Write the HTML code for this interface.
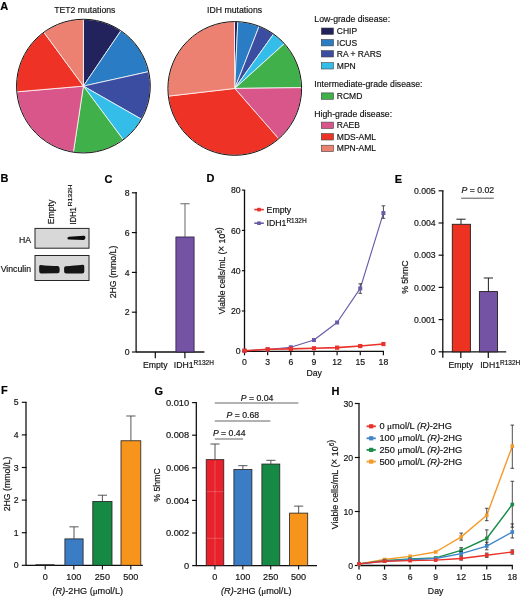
<!DOCTYPE html><html><head><meta charset="utf-8"><style>html,body{margin:0;padding:0;background:#fff;overflow:hidden}svg{display:block}</style></head><body>
<svg width="520" height="597" viewBox="0 0 520 597" font-family="'Liberation Sans', sans-serif">
<style>text{stroke:#141414;stroke-width:0.22px;stroke-opacity:0.8}</style>
<defs><filter id="gblur" x="0" y="0" width="520" height="597" filterUnits="userSpaceOnUse"><feGaussianBlur stdDeviation="0.3"/></filter></defs>
<rect width="520" height="597" fill="#fff"/>
<g filter="url(#gblur)">
<text x="0.30" y="9.80" font-size="11" text-anchor="start" font-weight="bold" fill="#000" >A</text>
<text x="84.80" y="12.70" font-size="8.7" text-anchor="middle" fill="#141414" >TET2 mutations</text>
<text x="234.60" y="12.70" font-size="8.7" text-anchor="middle" fill="#141414" >IDH mutations</text>
<path d="M83.40,86.10 L83.40,19.25 A66.85,66.85 0 0 1 120.88,30.74 Z" fill="#22215c" stroke="#fff" stroke-width="0.75" stroke-linejoin="round"/>
<path d="M83.40,86.10 L120.88,30.74 A66.85,66.85 0 0 1 148.67,71.63 Z" fill="#2a7dc4" stroke="#fff" stroke-width="0.75" stroke-linejoin="round"/>
<path d="M83.40,86.10 L148.67,71.63 A66.85,66.85 0 0 1 141.47,119.22 Z" fill="#3b4ea1" stroke="#fff" stroke-width="0.75" stroke-linejoin="round"/>
<path d="M83.40,86.10 L141.47,119.22 A66.85,66.85 0 0 1 123.26,139.77 Z" fill="#35bdea" stroke="#fff" stroke-width="0.75" stroke-linejoin="round"/>
<path d="M83.40,86.10 L123.26,139.77 A66.85,66.85 0 0 1 73.40,152.20 Z" fill="#3fb04c" stroke="#fff" stroke-width="0.75" stroke-linejoin="round"/>
<path d="M83.40,86.10 L73.40,152.20 A66.85,66.85 0 0 1 16.79,91.81 Z" fill="#d9568b" stroke="#fff" stroke-width="0.75" stroke-linejoin="round"/>
<path d="M83.40,86.10 L16.79,91.81 A66.85,66.85 0 0 1 43.82,32.22 Z" fill="#ee3226" stroke="#fff" stroke-width="0.75" stroke-linejoin="round"/>
<path d="M83.40,86.10 L43.82,32.22 A66.85,66.85 0 0 1 83.40,19.25 Z" fill="#ec8071" stroke="#fff" stroke-width="0.75" stroke-linejoin="round"/>
<circle cx="83.4" cy="86.1" r="66.85" fill="none" stroke="#141414" stroke-width="1.0"/>
<path d="M234.75,88.45 L234.40,21.60 A66.85,66.85 0 0 1 237.78,21.67 Z" fill="#22215c" stroke="#fff" stroke-width="0.75" stroke-linejoin="round"/>
<path d="M234.75,88.45 L237.78,21.67 A66.85,66.85 0 0 1 259.14,26.21 Z" fill="#2a7dc4" stroke="#fff" stroke-width="0.75" stroke-linejoin="round"/>
<path d="M234.75,88.45 L259.14,26.21 A66.85,66.85 0 0 1 273.57,34.03 Z" fill="#3b4ea1" stroke="#fff" stroke-width="0.75" stroke-linejoin="round"/>
<path d="M234.75,88.45 L273.57,34.03 A66.85,66.85 0 0 1 284.35,43.63 Z" fill="#35bdea" stroke="#fff" stroke-width="0.75" stroke-linejoin="round"/>
<path d="M234.75,88.45 L284.35,43.63 A66.85,66.85 0 0 1 301.60,87.63 Z" fill="#3fb04c" stroke="#fff" stroke-width="0.75" stroke-linejoin="round"/>
<path d="M234.75,88.45 L301.60,87.63 A66.85,66.85 0 0 1 278.70,138.83 Z" fill="#d9568b" stroke="#fff" stroke-width="0.75" stroke-linejoin="round"/>
<path d="M234.75,88.45 L278.70,138.83 A66.85,66.85 0 0 1 168.34,96.13 Z" fill="#ee3226" stroke="#fff" stroke-width="0.75" stroke-linejoin="round"/>
<path d="M234.75,88.45 L168.34,96.13 A66.85,66.85 0 0 1 234.40,21.60 Z" fill="#ec8071" stroke="#fff" stroke-width="0.75" stroke-linejoin="round"/>
<circle cx="234.75" cy="88.45" r="66.85" fill="none" stroke="#141414" stroke-width="1.0"/>
<text x="314.30" y="22.00" font-size="8.7" text-anchor="start" fill="#141414" >Low-grade disease:</text>
<rect x="321.30" y="28.00" width="12.20" height="6.40" fill="#22215c" stroke="#444" stroke-width="0.6"/>
<text x="336.80" y="34.20" font-size="8.5" text-anchor="start" fill="#141414" >CHIP</text>
<rect x="321.30" y="39.50" width="12.20" height="6.40" fill="#2a7dc4" stroke="#444" stroke-width="0.6"/>
<text x="336.80" y="45.70" font-size="8.5" text-anchor="start" fill="#141414" >ICUS</text>
<rect x="321.30" y="50.60" width="12.20" height="6.40" fill="#3b4ea1" stroke="#444" stroke-width="0.6"/>
<text x="336.80" y="56.80" font-size="8.5" text-anchor="start" fill="#141414" >RA + RARS</text>
<rect x="321.30" y="62.60" width="12.20" height="6.40" fill="#35bdea" stroke="#444" stroke-width="0.6"/>
<text x="336.80" y="68.80" font-size="8.5" text-anchor="start" fill="#141414" >MPN</text>
<text x="314.30" y="87.00" font-size="8.7" text-anchor="start" fill="#141414" >Intermediate-grade disease:</text>
<rect x="321.30" y="92.90" width="12.20" height="6.40" fill="#3fb04c" stroke="#444" stroke-width="0.6"/>
<text x="336.80" y="99.10" font-size="8.5" text-anchor="start" fill="#141414" >RCMD</text>
<text x="314.30" y="117.10" font-size="8.7" text-anchor="start" fill="#141414" >High-grade disease:</text>
<rect x="321.30" y="122.10" width="12.20" height="6.40" fill="#d9568b" stroke="#444" stroke-width="0.6"/>
<text x="336.80" y="128.30" font-size="8.5" text-anchor="start" fill="#141414" >RAEB</text>
<rect x="321.30" y="133.60" width="12.20" height="6.40" fill="#ee3226" stroke="#444" stroke-width="0.6"/>
<text x="336.80" y="139.80" font-size="8.5" text-anchor="start" fill="#141414" >MDS-AML</text>
<rect x="321.30" y="145.20" width="12.20" height="6.40" fill="#ec8071" stroke="#444" stroke-width="0.6"/>
<text x="336.80" y="151.40" font-size="8.5" text-anchor="start" fill="#141414" >MPN-AML</text>
<text x="0.60" y="182.40" font-size="11" text-anchor="start" font-weight="bold" fill="#000" >B</text>
<text x="104.60" y="182.60" font-size="11" text-anchor="start" font-weight="bold" fill="#000" >C</text>
<text x="206.60" y="182.40" font-size="11" text-anchor="start" font-weight="bold" fill="#000" >D</text>
<text x="394.80" y="182.50" font-size="11" text-anchor="start" font-weight="bold" fill="#000" >E</text>
<text x="1.00" y="393.80" font-size="11" text-anchor="start" font-weight="bold" fill="#000" >F</text>
<text x="154.60" y="395.00" font-size="11" text-anchor="start" font-weight="bold" fill="#000" >G</text>
<text x="331.60" y="394.80" font-size="11" text-anchor="start" font-weight="bold" fill="#000" >H</text>
<defs><filter id="blur1" x="-20%" y="-50%" width="140%" height="200%"><feGaussianBlur stdDeviation="0.55"/></filter></defs>
<rect x="35.00" y="228.40" width="54.00" height="19.80" fill="#d8d8d8" stroke="#262626" stroke-width="1.0"/>
<rect x="35.00" y="255.50" width="54.00" height="25.00" fill="#d8d8d8" stroke="#262626" stroke-width="1.0"/>
<path d="M67.4,238.3 Q67.4,236.9 69,236.8 L83.6,235.7 Q85.5,235.3 85.4,237.6 L85.2,238.6 Q85,240.1 83.2,240.0 L69,239.6 Q67.4,239.6 67.4,238.3 Z" fill="#111" filter="url(#blur1)"/>
<path d="M40.4,264.9 C46,265.4 52,266.0 57.8,266.1 Q59.6,266.2 59.6,268.5 L59.6,271.3 Q59.6,273.3 57.6,273.3 L41.2,273.4 Q39.2,273.4 39.2,271.2 L39.2,266.6 Q39.2,264.8 40.4,264.9 Z" fill="#141414" filter="url(#blur1)"/>
<path d="M65.9,266.2 C71,266.0 77,265.4 82.8,264.8 Q84.3,264.7 84.3,266.8 L84.3,271.5 Q84.3,273.4 82.3,273.4 L66.1,273.5 Q64.1,273.5 64.1,271.5 L64.1,268.2 Q64.1,266.3 65.9,266.2 Z" fill="#141414" filter="url(#blur1)"/>
<text x="31.00" y="242.80" font-size="8.7" text-anchor="end" fill="#141414" >HA</text>
<text x="31.00" y="271.80" font-size="8.7" text-anchor="end" fill="#141414" >Vinculin</text>
<text transform="translate(54.0,224.3) rotate(-90)" font-size="8.7" fill="#141414">Empty</text>
<text transform="translate(75.7,224.4) rotate(-90)" font-size="8.7" fill="#141414" textLength="17.2" lengthAdjust="spacingAndGlyphs">IDH1</text>
<text transform="translate(72.4,206.6) rotate(-90)" font-size="5.8" fill="#141414" textLength="21.8" lengthAdjust="spacingAndGlyphs">R132H</text>
<line x1="136.10" y1="192.00" x2="136.10" y2="352.00" stroke="#111" stroke-width="1.3" />
<line x1="131.90" y1="352.00" x2="136.75" y2="352.00" stroke="#111" stroke-width="1.1700000000000002" />
<text x="129.70" y="355.10" font-size="8.7" text-anchor="end" fill="#141414" >0</text>
<line x1="131.90" y1="312.20" x2="136.75" y2="312.20" stroke="#111" stroke-width="1.1700000000000002" />
<text x="129.70" y="315.30" font-size="8.7" text-anchor="end" fill="#141414" >2</text>
<line x1="131.90" y1="272.40" x2="136.75" y2="272.40" stroke="#111" stroke-width="1.1700000000000002" />
<text x="129.70" y="275.50" font-size="8.7" text-anchor="end" fill="#141414" >4</text>
<line x1="131.90" y1="232.60" x2="136.75" y2="232.60" stroke="#111" stroke-width="1.1700000000000002" />
<text x="129.70" y="235.70" font-size="8.7" text-anchor="end" fill="#141414" >6</text>
<line x1="131.90" y1="192.80" x2="136.75" y2="192.80" stroke="#111" stroke-width="1.1700000000000002" />
<text x="129.70" y="195.90" font-size="8.7" text-anchor="end" fill="#141414" >8</text>
<line x1="136.10" y1="352.00" x2="204.40" y2="352.00" stroke="#111" stroke-width="1.3" />
<line x1="155.30" y1="352.00" x2="155.30" y2="358.30" stroke="#111" stroke-width="1.2" />
<line x1="184.90" y1="352.00" x2="184.90" y2="358.30" stroke="#111" stroke-width="1.2" />
<rect x="175.90" y="236.98" width="18.20" height="115.02" fill="#7452a4" stroke="#2a2040" stroke-width="0.8"/>
<line x1="185.00" y1="203.75" x2="185.00" y2="236.98" stroke="#555" stroke-width="0.9" />
<line x1="180.40" y1="203.75" x2="189.60" y2="203.75" stroke="#555" stroke-width="0.9" />
<text transform="translate(116.20,272.00) rotate(-90)" font-size="8.7" text-anchor="middle" fill="#141414">2HG (mmo/L)</text>
<text x="155.30" y="367.80" font-size="8.7" text-anchor="middle" fill="#141414" >Empty</text>
<text x="173.80" y="367.80" font-size="8.7" text-anchor="start" fill="#141414" >IDH1<tspan font-size="6.5" dy="-3.3">R132H</tspan></text>
<line x1="244.50" y1="190.10" x2="244.50" y2="351.30" stroke="#111" stroke-width="1.3" />
<line x1="241.90" y1="351.30" x2="245.15" y2="351.30" stroke="#111" stroke-width="1.1700000000000002" />
<text x="240.70" y="354.40" font-size="8.7" text-anchor="end" fill="#141414" >0</text>
<line x1="241.90" y1="311.00" x2="245.15" y2="311.00" stroke="#111" stroke-width="1.1700000000000002" />
<text x="240.70" y="314.10" font-size="8.7" text-anchor="end" fill="#141414" >20</text>
<line x1="241.90" y1="270.70" x2="245.15" y2="270.70" stroke="#111" stroke-width="1.1700000000000002" />
<text x="240.70" y="273.80" font-size="8.7" text-anchor="end" fill="#141414" >40</text>
<line x1="241.90" y1="230.40" x2="245.15" y2="230.40" stroke="#111" stroke-width="1.1700000000000002" />
<text x="240.70" y="233.50" font-size="8.7" text-anchor="end" fill="#141414" >60</text>
<line x1="241.90" y1="190.10" x2="245.15" y2="190.10" stroke="#111" stroke-width="1.1700000000000002" />
<text x="240.70" y="193.20" font-size="8.7" text-anchor="end" fill="#141414" >80</text>
<line x1="244.50" y1="351.30" x2="384.00" y2="351.30" stroke="#111" stroke-width="1.3" />
<line x1="244.50" y1="351.30" x2="244.50" y2="355.30" stroke="#111" stroke-width="1.2" />
<text x="244.50" y="365.20" font-size="8.7" text-anchor="middle" fill="#141414" >0</text>
<line x1="267.65" y1="351.30" x2="267.65" y2="355.30" stroke="#111" stroke-width="1.2" />
<text x="267.65" y="365.20" font-size="8.7" text-anchor="middle" fill="#141414" >3</text>
<line x1="290.80" y1="351.30" x2="290.80" y2="355.30" stroke="#111" stroke-width="1.2" />
<text x="290.80" y="365.20" font-size="8.7" text-anchor="middle" fill="#141414" >6</text>
<line x1="313.95" y1="351.30" x2="313.95" y2="355.30" stroke="#111" stroke-width="1.2" />
<text x="313.95" y="365.20" font-size="8.7" text-anchor="middle" fill="#141414" >9</text>
<line x1="337.10" y1="351.30" x2="337.10" y2="355.30" stroke="#111" stroke-width="1.2" />
<text x="337.10" y="365.20" font-size="8.7" text-anchor="middle" fill="#141414" >12</text>
<line x1="360.25" y1="351.30" x2="360.25" y2="355.30" stroke="#111" stroke-width="1.2" />
<text x="360.25" y="365.20" font-size="8.7" text-anchor="middle" fill="#141414" >15</text>
<line x1="383.40" y1="351.30" x2="383.40" y2="355.30" stroke="#111" stroke-width="1.2" />
<text x="383.40" y="365.20" font-size="8.7" text-anchor="middle" fill="#141414" >18</text>
<text x="314.20" y="375.60" font-size="8.7" text-anchor="middle" fill="#141414" >Day</text>
<text transform="translate(224.90,270.80) rotate(-90)" font-size="8.6" text-anchor="middle" fill="#141414">Viable cells/mL (<tspan font-size="10.2">×</tspan> 10<tspan font-size="6.5" dy="-3.3">6</tspan>)</text>
<polyline points="244.50,350.70 267.65,349.49 290.80,347.27 313.95,340.02 337.10,322.49 360.25,288.43 383.40,213.07" fill="none" stroke="#6a5aa8" stroke-width="1.15" stroke-linejoin="round"/>
<line x1="360.25" y1="283.80" x2="360.25" y2="293.27" stroke="#231f20" stroke-width="0.8" />
<line x1="358.45" y1="283.80" x2="362.05" y2="283.80" stroke="#231f20" stroke-width="0.8" />
<line x1="358.45" y1="293.27" x2="362.05" y2="293.27" stroke="#231f20" stroke-width="0.8" />
<line x1="383.40" y1="205.82" x2="383.40" y2="218.31" stroke="#231f20" stroke-width="0.8" />
<line x1="381.60" y1="205.82" x2="385.20" y2="205.82" stroke="#231f20" stroke-width="0.8" />
<line x1="381.60" y1="218.31" x2="385.20" y2="218.31" stroke="#231f20" stroke-width="0.8" />
<rect x="242.50" y="348.70" width="4.00" height="4.00" fill="#6a5aa8"/>
<rect x="265.65" y="347.49" width="4.00" height="4.00" fill="#6a5aa8"/>
<rect x="288.80" y="345.27" width="4.00" height="4.00" fill="#6a5aa8"/>
<rect x="311.95" y="338.02" width="4.00" height="4.00" fill="#6a5aa8"/>
<rect x="335.10" y="320.49" width="4.00" height="4.00" fill="#6a5aa8"/>
<rect x="358.25" y="286.43" width="4.00" height="4.00" fill="#6a5aa8"/>
<rect x="381.40" y="211.07" width="4.00" height="4.00" fill="#6a5aa8"/>
<polyline points="244.50,350.70 267.65,349.29 290.80,348.88 313.95,348.28 337.10,347.67 360.25,346.06 383.40,344.05" fill="none" stroke="#e8312a" stroke-width="1.6" stroke-linejoin="round"/>
<rect x="242.40" y="348.60" width="4.20" height="4.20" fill="#e8312a"/>
<rect x="265.55" y="347.19" width="4.20" height="4.20" fill="#e8312a"/>
<rect x="288.70" y="346.78" width="4.20" height="4.20" fill="#e8312a"/>
<rect x="311.85" y="346.18" width="4.20" height="4.20" fill="#e8312a"/>
<rect x="335.00" y="345.57" width="4.20" height="4.20" fill="#e8312a"/>
<rect x="358.15" y="343.96" width="4.20" height="4.20" fill="#e8312a"/>
<rect x="381.30" y="341.95" width="4.20" height="4.20" fill="#e8312a"/>
<line x1="254.30" y1="209.60" x2="263.80" y2="209.60" stroke="#e8312a" stroke-width="1.6" />
<rect x="257.20" y="207.80" width="3.60" height="3.60" fill="#e8312a"/>
<line x1="254.30" y1="223.20" x2="263.80" y2="223.20" stroke="#6a5aa8" stroke-width="1.6" />
<rect x="257.20" y="221.40" width="3.60" height="3.60" fill="#6a5aa8"/>
<text x="266.60" y="212.60" font-size="8.7" text-anchor="start" fill="#141414" >Empty</text>
<text x="266.60" y="226.20" font-size="8.7" text-anchor="start" fill="#141414" >IDH1<tspan font-size="6.5" dy="-3.3">R132H</tspan></text>
<line x1="442.80" y1="190.80" x2="442.80" y2="357.80" stroke="#111" stroke-width="1.3" />
<line x1="438.60" y1="351.80" x2="443.45" y2="351.80" stroke="#111" stroke-width="1.1700000000000002" />
<text x="435.70" y="354.90" font-size="8.7" text-anchor="end" fill="#141414" >0</text>
<line x1="438.60" y1="319.60" x2="443.45" y2="319.60" stroke="#111" stroke-width="1.1700000000000002" />
<text x="435.70" y="322.70" font-size="8.7" text-anchor="end" fill="#141414" >0.001</text>
<line x1="438.60" y1="287.40" x2="443.45" y2="287.40" stroke="#111" stroke-width="1.1700000000000002" />
<text x="435.70" y="290.50" font-size="8.7" text-anchor="end" fill="#141414" >0.002</text>
<line x1="438.60" y1="255.20" x2="443.45" y2="255.20" stroke="#111" stroke-width="1.1700000000000002" />
<text x="435.70" y="258.30" font-size="8.7" text-anchor="end" fill="#141414" >0.003</text>
<line x1="438.60" y1="223.00" x2="443.45" y2="223.00" stroke="#111" stroke-width="1.1700000000000002" />
<text x="435.70" y="226.10" font-size="8.7" text-anchor="end" fill="#141414" >0.004</text>
<line x1="438.60" y1="190.80" x2="443.45" y2="190.80" stroke="#111" stroke-width="1.1700000000000002" />
<text x="435.70" y="193.90" font-size="8.7" text-anchor="end" fill="#141414" >0.005</text>
<line x1="442.80" y1="351.80" x2="506.20" y2="351.80" stroke="#111" stroke-width="1.3" />
<line x1="460.80" y1="351.80" x2="460.80" y2="358.00" stroke="#111" stroke-width="1.2" />
<line x1="488.30" y1="351.80" x2="488.30" y2="358.00" stroke="#111" stroke-width="1.2" />
<rect x="452.30" y="224.29" width="18.10" height="127.51" fill="#ee3124" stroke="#231f20" stroke-width="0.9"/>
<line x1="461.00" y1="219.20" x2="461.00" y2="224.29" stroke="#231f20" stroke-width="1.0" />
<line x1="456.40" y1="219.20" x2="465.60" y2="219.20" stroke="#231f20" stroke-width="1.0" />
<rect x="479.40" y="291.59" width="18.10" height="60.21" fill="#7452a4" stroke="#231f20" stroke-width="0.9"/>
<line x1="488.40" y1="278.00" x2="488.40" y2="291.59" stroke="#231f20" stroke-width="1.0" />
<line x1="483.80" y1="278.00" x2="493.00" y2="278.00" stroke="#231f20" stroke-width="1.0" />
<text x="477.80" y="193.20" font-size="8.7" text-anchor="middle" fill="#141414" ><tspan font-style="italic">P</tspan> = 0.02</text>
<line x1="461.20" y1="198.20" x2="493.80" y2="198.20" stroke="#444" stroke-width="0.9" />
<text transform="translate(408.00,277.20) rotate(-90)" font-size="8.7" text-anchor="middle" fill="#141414">% 5hmC</text>
<text x="460.80" y="368.20" font-size="8.7" text-anchor="middle" fill="#141414" >Empty</text>
<text x="480.20" y="368.20" font-size="8.7" text-anchor="start" fill="#141414" >IDH1<tspan font-size="6.5" dy="-3.3">R132H</tspan></text>
<line x1="26.00" y1="402.30" x2="26.00" y2="565.30" stroke="#111" stroke-width="1.3" />
<line x1="21.80" y1="565.30" x2="26.65" y2="565.30" stroke="#111" stroke-width="1.1700000000000002" />
<text x="18.70" y="568.40" font-size="8.7" text-anchor="end" fill="#141414" >0</text>
<line x1="21.80" y1="532.70" x2="26.65" y2="532.70" stroke="#111" stroke-width="1.1700000000000002" />
<text x="18.70" y="535.80" font-size="8.7" text-anchor="end" fill="#141414" >1</text>
<line x1="21.80" y1="500.10" x2="26.65" y2="500.10" stroke="#111" stroke-width="1.1700000000000002" />
<text x="18.70" y="503.20" font-size="8.7" text-anchor="end" fill="#141414" >2</text>
<line x1="21.80" y1="467.50" x2="26.65" y2="467.50" stroke="#111" stroke-width="1.1700000000000002" />
<text x="18.70" y="470.60" font-size="8.7" text-anchor="end" fill="#141414" >3</text>
<line x1="21.80" y1="434.90" x2="26.65" y2="434.90" stroke="#111" stroke-width="1.1700000000000002" />
<text x="18.70" y="438.00" font-size="8.7" text-anchor="end" fill="#141414" >4</text>
<line x1="21.80" y1="402.30" x2="26.65" y2="402.30" stroke="#111" stroke-width="1.1700000000000002" />
<text x="18.70" y="405.40" font-size="8.7" text-anchor="end" fill="#141414" >5</text>
<line x1="26.00" y1="565.30" x2="142.80" y2="565.30" stroke="#111" stroke-width="1.3" />
<rect x="35.50" y="564.32" width="19.00" height="0.98" fill="#231f20"/>
<rect x="64.90" y="538.89" width="18.20" height="26.41" fill="#3b7dc4" stroke="#231f20" stroke-width="0.8"/>
<line x1="74.00" y1="526.83" x2="74.00" y2="538.89" stroke="#444" stroke-width="0.9" />
<line x1="69.40" y1="526.83" x2="78.60" y2="526.83" stroke="#444" stroke-width="0.9" />
<rect x="92.80" y="501.40" width="19.20" height="63.90" fill="#178944" stroke="#231f20" stroke-width="0.8"/>
<line x1="102.40" y1="495.21" x2="102.40" y2="501.40" stroke="#444" stroke-width="0.9" />
<line x1="97.80" y1="495.21" x2="107.00" y2="495.21" stroke="#444" stroke-width="0.9" />
<rect x="121.00" y="440.77" width="19.80" height="124.53" fill="#f7941d" stroke="#231f20" stroke-width="0.8"/>
<line x1="130.90" y1="415.99" x2="130.90" y2="440.77" stroke="#444" stroke-width="0.9" />
<line x1="126.30" y1="415.99" x2="135.50" y2="415.99" stroke="#444" stroke-width="0.9" />
<line x1="45.20" y1="565.30" x2="45.20" y2="569.50" stroke="#111" stroke-width="1.1" />
<text x="45.20" y="579.60" font-size="9.1" text-anchor="middle" fill="#141414" >0</text>
<line x1="73.80" y1="565.30" x2="73.80" y2="569.50" stroke="#111" stroke-width="1.1" />
<text x="73.80" y="579.60" font-size="9.1" text-anchor="middle" fill="#141414" >100</text>
<line x1="102.40" y1="565.30" x2="102.40" y2="569.50" stroke="#111" stroke-width="1.1" />
<text x="102.40" y="579.60" font-size="9.1" text-anchor="middle" fill="#141414" >250</text>
<line x1="130.80" y1="565.30" x2="130.80" y2="569.50" stroke="#111" stroke-width="1.1" />
<text x="130.80" y="579.60" font-size="9.1" text-anchor="middle" fill="#141414" >500</text>
<text x="87.80" y="594.00" font-size="9.1" text-anchor="middle" fill="#141414" textLength="70.5" lengthAdjust="spacingAndGlyphs"><tspan font-style="italic">(R)</tspan>-2HG (<tspan font-family="'Liberation Serif', serif">μ</tspan>mol/L)</text>
<text transform="translate(10.20,484.00) rotate(-90)" font-size="8.7" text-anchor="middle" fill="#141414">2HG (mmol/L)</text>
<line x1="196.30" y1="402.70" x2="196.30" y2="565.60" stroke="#111" stroke-width="1.3" />
<line x1="192.10" y1="565.60" x2="196.95" y2="565.60" stroke="#111" stroke-width="1.1700000000000002" />
<text x="189.20" y="568.70" font-size="9.3" text-anchor="end" fill="#141414" >0</text>
<line x1="192.10" y1="533.00" x2="196.95" y2="533.00" stroke="#111" stroke-width="1.1700000000000002" />
<text x="189.20" y="536.10" font-size="9.3" text-anchor="end" fill="#141414" >0.002</text>
<line x1="192.10" y1="500.40" x2="196.95" y2="500.40" stroke="#111" stroke-width="1.1700000000000002" />
<text x="189.20" y="503.50" font-size="9.3" text-anchor="end" fill="#141414" >0.004</text>
<line x1="192.10" y1="467.80" x2="196.95" y2="467.80" stroke="#111" stroke-width="1.1700000000000002" />
<text x="189.20" y="470.90" font-size="9.3" text-anchor="end" fill="#141414" >0.006</text>
<line x1="192.10" y1="435.20" x2="196.95" y2="435.20" stroke="#111" stroke-width="1.1700000000000002" />
<text x="189.20" y="438.30" font-size="9.3" text-anchor="end" fill="#141414" >0.008</text>
<line x1="192.10" y1="402.60" x2="196.95" y2="402.60" stroke="#111" stroke-width="1.1700000000000002" />
<text x="189.20" y="405.70" font-size="9.3" text-anchor="end" fill="#141414" >0.010</text>
<line x1="196.30" y1="565.60" x2="317.00" y2="565.60" stroke="#111" stroke-width="1.3" />
<rect x="206.20" y="459.65" width="17.60" height="105.95" fill="#e8202a" stroke="#231f20" stroke-width="0.8"/>
<line x1="215.00" y1="444.00" x2="215.00" y2="459.65" stroke="#444" stroke-width="0.9" />
<line x1="210.40" y1="444.00" x2="219.60" y2="444.00" stroke="#444" stroke-width="0.9" />
<rect x="233.90" y="469.59" width="18.00" height="96.01" fill="#3b7dc4" stroke="#231f20" stroke-width="0.8"/>
<line x1="242.90" y1="465.68" x2="242.90" y2="469.59" stroke="#444" stroke-width="0.9" />
<line x1="238.30" y1="465.68" x2="247.50" y2="465.68" stroke="#444" stroke-width="0.9" />
<rect x="261.90" y="464.05" width="17.90" height="101.55" fill="#178944" stroke="#231f20" stroke-width="0.8"/>
<line x1="270.85" y1="460.30" x2="270.85" y2="464.05" stroke="#444" stroke-width="0.9" />
<line x1="266.25" y1="460.30" x2="275.45" y2="460.30" stroke="#444" stroke-width="0.9" />
<rect x="289.60" y="513.11" width="18.10" height="52.49" fill="#f7941d" stroke="#231f20" stroke-width="0.8"/>
<line x1="298.65" y1="506.11" x2="298.65" y2="513.11" stroke="#444" stroke-width="0.9" />
<line x1="294.05" y1="506.11" x2="303.25" y2="506.11" stroke="#444" stroke-width="0.9" />
<g stroke="#fff" stroke-opacity="0.28" stroke-width="0.8">
<line x1="215.00" y1="460.65" x2="215.00" y2="565.10" stroke="#fff" stroke-width="0.8" />
<line x1="206.80" y1="491.70" x2="223.20" y2="491.70" stroke="#fff" stroke-width="0.8" />
<line x1="206.80" y1="538.30" x2="223.20" y2="538.30" stroke="#fff" stroke-width="0.8" />
</g>
<line x1="214.90" y1="565.60" x2="214.90" y2="569.60" stroke="#111" stroke-width="1.1" />
<text x="214.90" y="579.60" font-size="9.1" text-anchor="middle" fill="#141414" >0</text>
<line x1="242.80" y1="565.60" x2="242.80" y2="569.60" stroke="#111" stroke-width="1.1" />
<text x="242.80" y="579.60" font-size="9.1" text-anchor="middle" fill="#141414" >100</text>
<line x1="270.70" y1="565.60" x2="270.70" y2="569.60" stroke="#111" stroke-width="1.1" />
<text x="270.70" y="579.60" font-size="9.1" text-anchor="middle" fill="#141414" >250</text>
<line x1="298.60" y1="565.60" x2="298.60" y2="569.60" stroke="#111" stroke-width="1.1" />
<text x="298.60" y="579.60" font-size="9.1" text-anchor="middle" fill="#141414" >500</text>
<text x="256.30" y="593.60" font-size="9.1" text-anchor="middle" fill="#141414" textLength="70.5" lengthAdjust="spacingAndGlyphs"><tspan font-style="italic">(R)</tspan>-2HG (<tspan font-family="'Liberation Serif', serif">μ</tspan>mol/L)</text>
<text transform="translate(160.00,485.00) rotate(-90)" font-size="8.7" text-anchor="middle" fill="#141414">% 5hmC</text>
<line x1="214.80" y1="403.00" x2="298.40" y2="403.00" stroke="#555" stroke-width="0.9" />
<line x1="214.80" y1="421.00" x2="270.40" y2="421.00" stroke="#555" stroke-width="0.9" />
<line x1="214.80" y1="439.00" x2="243.00" y2="439.00" stroke="#555" stroke-width="0.9" />
<text x="257.00" y="400.70" font-size="8.7" text-anchor="middle" fill="#141414" ><tspan font-style="italic">P</tspan> = 0.04</text>
<text x="242.90" y="417.60" font-size="8.7" text-anchor="middle" fill="#141414" ><tspan font-style="italic">P</tspan> = 0.68</text>
<text x="229.20" y="436.20" font-size="8.7" text-anchor="middle" fill="#141414" ><tspan font-style="italic">P</tspan> = 0.44</text>
<line x1="359.00" y1="403.50" x2="359.00" y2="565.50" stroke="#111" stroke-width="1.3" />
<line x1="354.80" y1="565.50" x2="359.65" y2="565.50" stroke="#111" stroke-width="1.1700000000000002" />
<text x="353.20" y="568.60" font-size="8.7" text-anchor="end" fill="#141414" >0</text>
<line x1="354.80" y1="511.50" x2="359.65" y2="511.50" stroke="#111" stroke-width="1.1700000000000002" />
<text x="353.20" y="514.60" font-size="8.7" text-anchor="end" fill="#141414" >10</text>
<line x1="354.80" y1="457.50" x2="359.65" y2="457.50" stroke="#111" stroke-width="1.1700000000000002" />
<text x="353.20" y="460.60" font-size="8.7" text-anchor="end" fill="#141414" >20</text>
<line x1="354.80" y1="403.50" x2="359.65" y2="403.50" stroke="#111" stroke-width="1.1700000000000002" />
<text x="353.20" y="406.60" font-size="8.7" text-anchor="end" fill="#141414" >30</text>
<line x1="359.00" y1="565.50" x2="512.90" y2="565.50" stroke="#111" stroke-width="1.3" />
<line x1="359.00" y1="565.50" x2="359.00" y2="569.50" stroke="#111" stroke-width="1.2" />
<text x="359.00" y="579.60" font-size="8.7" text-anchor="middle" fill="#141414" >0</text>
<line x1="384.55" y1="565.50" x2="384.55" y2="569.50" stroke="#111" stroke-width="1.2" />
<text x="384.55" y="579.60" font-size="8.7" text-anchor="middle" fill="#141414" >3</text>
<line x1="410.10" y1="565.50" x2="410.10" y2="569.50" stroke="#111" stroke-width="1.2" />
<text x="410.10" y="579.60" font-size="8.7" text-anchor="middle" fill="#141414" >6</text>
<line x1="435.65" y1="565.50" x2="435.65" y2="569.50" stroke="#111" stroke-width="1.2" />
<text x="435.65" y="579.60" font-size="8.7" text-anchor="middle" fill="#141414" >9</text>
<line x1="461.20" y1="565.50" x2="461.20" y2="569.50" stroke="#111" stroke-width="1.2" />
<text x="461.20" y="579.60" font-size="8.7" text-anchor="middle" fill="#141414" >12</text>
<line x1="486.75" y1="565.50" x2="486.75" y2="569.50" stroke="#111" stroke-width="1.2" />
<text x="486.75" y="579.60" font-size="8.7" text-anchor="middle" fill="#141414" >15</text>
<line x1="512.30" y1="565.50" x2="512.30" y2="569.50" stroke="#111" stroke-width="1.2" />
<text x="512.30" y="579.60" font-size="8.7" text-anchor="middle" fill="#141414" >18</text>
<text x="435.60" y="594.20" font-size="8.7" text-anchor="middle" fill="#141414" >Day</text>
<text transform="translate(337.50,484.50) rotate(-90)" font-size="8.9" text-anchor="middle" fill="#141414">Viable cells/mL (<tspan font-size="10.2">×</tspan> 10<tspan font-size="6.5" dy="-3.3">6</tspan>)</text>
<polyline points="359.00,563.88 384.55,559.56 410.10,556.32 435.65,552.00 461.20,536.88 486.75,515.28 512.30,446.16" fill="none" stroke="#f39a2a" stroke-width="1.4" stroke-linejoin="round"/>
<line x1="461.20" y1="533.10" x2="461.20" y2="540.12" stroke="#231f20" stroke-width="0.8" />
<line x1="459.40" y1="533.10" x2="463.00" y2="533.10" stroke="#231f20" stroke-width="0.8" />
<line x1="459.40" y1="540.12" x2="463.00" y2="540.12" stroke="#231f20" stroke-width="0.8" />
<line x1="486.75" y1="508.26" x2="486.75" y2="520.68" stroke="#231f20" stroke-width="0.8" />
<line x1="484.95" y1="508.26" x2="488.55" y2="508.26" stroke="#231f20" stroke-width="0.8" />
<line x1="484.95" y1="520.68" x2="488.55" y2="520.68" stroke="#231f20" stroke-width="0.8" />
<line x1="512.30" y1="425.10" x2="512.30" y2="468.30" stroke="#231f20" stroke-width="0.8" />
<line x1="510.50" y1="425.10" x2="514.10" y2="425.10" stroke="#231f20" stroke-width="0.8" />
<line x1="510.50" y1="468.30" x2="514.10" y2="468.30" stroke="#231f20" stroke-width="0.8" />
<rect x="357.20" y="562.08" width="3.60" height="3.60" fill="#f39a2a"/>
<rect x="382.75" y="557.76" width="3.60" height="3.60" fill="#f39a2a"/>
<rect x="408.30" y="554.52" width="3.60" height="3.60" fill="#f39a2a"/>
<rect x="433.85" y="550.20" width="3.60" height="3.60" fill="#f39a2a"/>
<rect x="459.40" y="535.08" width="3.60" height="3.60" fill="#f39a2a"/>
<rect x="484.95" y="513.48" width="3.60" height="3.60" fill="#f39a2a"/>
<rect x="510.50" y="444.36" width="3.60" height="3.60" fill="#f39a2a"/>
<polyline points="359.00,563.88 384.55,560.64 410.10,559.02 435.65,557.94 461.20,550.38 486.75,538.50 512.30,504.48" fill="none" stroke="#1a8d4a" stroke-width="1.4" stroke-linejoin="round"/>
<line x1="461.20" y1="547.68" x2="461.20" y2="552.54" stroke="#231f20" stroke-width="0.8" />
<line x1="459.40" y1="547.68" x2="463.00" y2="547.68" stroke="#231f20" stroke-width="0.8" />
<line x1="459.40" y1="552.54" x2="463.00" y2="552.54" stroke="#231f20" stroke-width="0.8" />
<line x1="486.75" y1="529.86" x2="486.75" y2="544.44" stroke="#231f20" stroke-width="0.8" />
<line x1="484.95" y1="529.86" x2="488.55" y2="529.86" stroke="#231f20" stroke-width="0.8" />
<line x1="484.95" y1="544.44" x2="488.55" y2="544.44" stroke="#231f20" stroke-width="0.8" />
<line x1="512.30" y1="481.26" x2="512.30" y2="527.16" stroke="#231f20" stroke-width="0.8" />
<line x1="510.50" y1="481.26" x2="514.10" y2="481.26" stroke="#231f20" stroke-width="0.8" />
<line x1="510.50" y1="527.16" x2="514.10" y2="527.16" stroke="#231f20" stroke-width="0.8" />
<rect x="357.20" y="562.08" width="3.60" height="3.60" fill="#1a8d4a"/>
<rect x="382.75" y="558.84" width="3.60" height="3.60" fill="#1a8d4a"/>
<rect x="408.30" y="557.22" width="3.60" height="3.60" fill="#1a8d4a"/>
<rect x="433.85" y="556.14" width="3.60" height="3.60" fill="#1a8d4a"/>
<rect x="459.40" y="548.58" width="3.60" height="3.60" fill="#1a8d4a"/>
<rect x="484.95" y="536.70" width="3.60" height="3.60" fill="#1a8d4a"/>
<rect x="510.50" y="502.68" width="3.60" height="3.60" fill="#1a8d4a"/>
<polyline points="359.00,563.88 384.55,561.18 410.10,559.56 435.65,558.48 461.20,553.62 486.75,546.06 512.30,532.02" fill="none" stroke="#3f86c8" stroke-width="1.4" stroke-linejoin="round"/>
<line x1="461.20" y1="551.46" x2="461.20" y2="555.78" stroke="#231f20" stroke-width="0.8" />
<line x1="459.40" y1="551.46" x2="463.00" y2="551.46" stroke="#231f20" stroke-width="0.8" />
<line x1="459.40" y1="555.78" x2="463.00" y2="555.78" stroke="#231f20" stroke-width="0.8" />
<line x1="486.75" y1="542.28" x2="486.75" y2="549.84" stroke="#231f20" stroke-width="0.8" />
<line x1="484.95" y1="542.28" x2="488.55" y2="542.28" stroke="#231f20" stroke-width="0.8" />
<line x1="484.95" y1="549.84" x2="488.55" y2="549.84" stroke="#231f20" stroke-width="0.8" />
<line x1="512.30" y1="523.92" x2="512.30" y2="537.96" stroke="#231f20" stroke-width="0.8" />
<line x1="510.50" y1="523.92" x2="514.10" y2="523.92" stroke="#231f20" stroke-width="0.8" />
<line x1="510.50" y1="537.96" x2="514.10" y2="537.96" stroke="#231f20" stroke-width="0.8" />
<rect x="357.20" y="562.08" width="3.60" height="3.60" fill="#3f86c8"/>
<rect x="382.75" y="559.38" width="3.60" height="3.60" fill="#3f86c8"/>
<rect x="408.30" y="557.76" width="3.60" height="3.60" fill="#3f86c8"/>
<rect x="433.85" y="556.68" width="3.60" height="3.60" fill="#3f86c8"/>
<rect x="459.40" y="551.82" width="3.60" height="3.60" fill="#3f86c8"/>
<rect x="484.95" y="544.26" width="3.60" height="3.60" fill="#3f86c8"/>
<rect x="510.50" y="530.22" width="3.60" height="3.60" fill="#3f86c8"/>
<polyline points="359.00,563.88 384.55,561.18 410.10,560.64 435.65,560.10 461.20,558.48 486.75,555.24 512.30,552.00" fill="none" stroke="#e8312a" stroke-width="1.4" stroke-linejoin="round"/>
<line x1="461.20" y1="556.86" x2="461.20" y2="560.10" stroke="#231f20" stroke-width="0.8" />
<line x1="459.40" y1="556.86" x2="463.00" y2="556.86" stroke="#231f20" stroke-width="0.8" />
<line x1="459.40" y1="560.10" x2="463.00" y2="560.10" stroke="#231f20" stroke-width="0.8" />
<line x1="486.75" y1="553.08" x2="486.75" y2="557.40" stroke="#231f20" stroke-width="0.8" />
<line x1="484.95" y1="553.08" x2="488.55" y2="553.08" stroke="#231f20" stroke-width="0.8" />
<line x1="484.95" y1="557.40" x2="488.55" y2="557.40" stroke="#231f20" stroke-width="0.8" />
<line x1="512.30" y1="549.84" x2="512.30" y2="554.16" stroke="#231f20" stroke-width="0.8" />
<line x1="510.50" y1="549.84" x2="514.10" y2="549.84" stroke="#231f20" stroke-width="0.8" />
<line x1="510.50" y1="554.16" x2="514.10" y2="554.16" stroke="#231f20" stroke-width="0.8" />
<rect x="357.20" y="562.08" width="3.60" height="3.60" fill="#e8312a"/>
<rect x="382.75" y="559.38" width="3.60" height="3.60" fill="#e8312a"/>
<rect x="408.30" y="558.84" width="3.60" height="3.60" fill="#e8312a"/>
<rect x="433.85" y="558.30" width="3.60" height="3.60" fill="#e8312a"/>
<rect x="459.40" y="556.68" width="3.60" height="3.60" fill="#e8312a"/>
<rect x="484.95" y="553.44" width="3.60" height="3.60" fill="#e8312a"/>
<rect x="510.50" y="550.20" width="3.60" height="3.60" fill="#e8312a"/>
<line x1="366.60" y1="426.30" x2="375.80" y2="426.30" stroke="#e8312a" stroke-width="1.8" />
<rect x="369.10" y="424.20" width="4.20" height="4.20" fill="#e8312a"/>
<text x="379.40" y="429.40" font-size="9.25" text-anchor="start" fill="#141414" >0 <tspan font-family="'Liberation Serif', serif">μ</tspan>mol/L <tspan font-style="italic">(R)</tspan>-2HG</text>
<line x1="366.60" y1="438.30" x2="375.80" y2="438.30" stroke="#3f86c8" stroke-width="1.8" />
<rect x="369.10" y="436.20" width="4.20" height="4.20" fill="#3f86c8"/>
<text x="379.40" y="441.40" font-size="9.25" text-anchor="start" fill="#141414" >100 <tspan font-family="'Liberation Serif', serif">μ</tspan>mol/L <tspan font-style="italic">(R)</tspan>-2HG</text>
<line x1="366.60" y1="449.90" x2="375.80" y2="449.90" stroke="#1a8d4a" stroke-width="1.8" />
<rect x="369.10" y="447.80" width="4.20" height="4.20" fill="#1a8d4a"/>
<text x="379.40" y="453.00" font-size="9.25" text-anchor="start" fill="#141414" >250 <tspan font-family="'Liberation Serif', serif">μ</tspan>mol/L <tspan font-style="italic">(R)</tspan>-2HG</text>
<line x1="366.60" y1="461.60" x2="375.80" y2="461.60" stroke="#f39a2a" stroke-width="1.8" />
<rect x="369.10" y="459.50" width="4.20" height="4.20" fill="#f39a2a"/>
<text x="379.40" y="464.70" font-size="9.25" text-anchor="start" fill="#141414" >500 <tspan font-family="'Liberation Serif', serif">μ</tspan>mol/L <tspan font-style="italic">(R)</tspan>-2HG</text>
</g>
</svg></body></html>
